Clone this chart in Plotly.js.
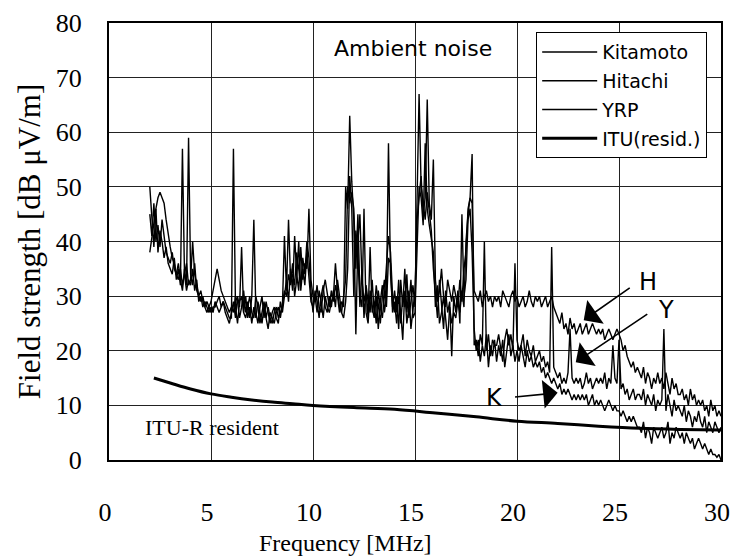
<!DOCTYPE html>
<html>
<head>
<meta charset="utf-8">
<script src="https://cdn.plot.ly/plotly-3.0.1.min.js"></script>
<style>html,body{margin:0;padding:0;background:#fff;}#chart{width:732px;height:556px;}</style>
</head>
<body>
<div id="chart"></div>
<script>
// Frequency grid [MHz]
const freq = [
2.0,2.1,2.2,2.3,2.4,2.5,2.6,2.7,2.8,2.9,
3.0,3.1,3.2,3.3,3.4,3.5,3.6,3.7,3.8,3.9,
4.0,4.1,4.2,4.3,4.4,4.5,4.6,4.7,4.8,4.9,
5.0,5.1,5.2,5.3,5.4,5.5,5.6,5.7,5.8,5.9,
6.0,6.1,6.2,6.3,6.4,6.5,6.6,6.7,6.8,6.9,
7.0,7.1,7.2,7.3,7.4,7.5,7.6,7.7,7.8,7.9,
8.0,8.1,8.2,8.3,8.4,8.5,8.6,8.7,8.8,8.9,
9.0,9.1,9.2,9.3,9.4,9.5,9.6,9.7,9.8,9.9,
10.0,10.1,10.2,10.3,10.4,10.5,10.6,10.7,10.8,10.9,
11.0,11.1,11.2,11.3,11.4,11.5,11.6,11.7,11.8,11.9,
12.0,12.1,12.2,12.3,12.4,12.5,12.6,12.7,12.8,12.9,
13.0,13.1,13.2,13.3,13.4,13.5,13.6,13.7,13.8,13.9,
14.0,14.1,14.2,14.3,14.4,14.5,14.6,14.7,14.8,14.9,
15.0,15.1,15.2,15.3,15.4,15.5,15.6,15.7,15.8,15.9,
16.0,16.1,16.2,16.3,16.4,16.5,16.6,16.7,16.8,16.9,
17.0,17.1,17.2,17.3,17.4,17.5,17.6,17.7,17.8,17.9,
18.0,18.1,18.2,18.3,18.4,18.5,18.6,18.7,18.8,18.9,
19.0,19.1,19.2,19.3,19.4,19.5,19.6,19.7,19.8,19.9,
20.0,20.1,20.2,20.3,20.4,20.5,20.6,20.7,20.8,20.9,
21.0,21.1,21.2,21.3,21.4,21.5,21.6,21.7,21.8,21.9,
22.0,22.1,22.2,22.3,22.4,22.5,22.6,22.7,22.8,22.9,
23.0,23.1,23.2,23.3,23.4,23.5,23.6,23.7,23.8,23.9,
24.0,24.1,24.2,24.3,24.4,24.5,24.6,24.7,24.8,24.9,
25.0,25.1,25.2,25.3,25.4,25.5,25.6,25.7,25.8,25.9,
26.0,26.1,26.2,26.3,26.4,26.5,26.6,26.7,26.8,26.9,
27.0,27.1,27.2,27.3,27.4,27.5,27.6,27.7,27.8,27.9,
28.0,28.1,28.2,28.3,28.4,28.5,28.6,28.7,28.8,28.9,
29.0,29.1,29.2,29.3,29.4,29.5,29.6,29.7,29.8,29.9,
30.0];

// Field strength [dBuV/m]
const kitamoto = [
50,44,39,46,38,42,40,37,39,36,
35,34,37,33,35,32,57,34,31,33,
32,35,31,33,29,30,28,29,28,27,
28,27,29,28,27,28,29,27,26,25,
27,29,26,30,28,39,27,30,26,28,
25,28,26,29,27,25,28,26,24,27,
26,25,27,28,26,29,31,30,34,32,
36,30,33,40,31,35,32,38,34,29,
28,30,27,31,29,26,30,28,27,29,
30,36,31,28,27,30,33,50,47,49,
46,35,45,30,28,46,27,25,31,28,
26,30,24,29,32,27,30,58,34,28,
31,27,33,25,30,28,34,26,29,32,
28,46,67,50,47,44,49,45,42,35,
30,26,33,28,24,31,27,29,19,30,
27,31,25,45,30,33,44,46,38,24,
20,22,18,21,19,23,17,21,19,22,
18,21,19,22,17,20,23,19,21,18,
20,18,21,19,17,20,18,19,17,18,
17,18,16,17,15,16,15,14,15,14,
13,14,12,13,12,13,12,11,12,11,
12,11,12,11,12,10,11,12,10,11,
10,11,10,9,10,11,10,9,10,9,
9,8,9,8,7,8,7,8,7,6,
6,5,7,4,6,5,3,6,5,4,
5,6,4,5,7,3,5,4,6,5,
4,5,3,5,4,3,4,2,3,4,
3,2,3,2,1,2,1,1,0.5,1,
0];

const hitachi = [
45,41,47,40,43,39,44,41,38,37,
36,38,35,34,36,33,31,35,32,59,
34,32,36,31,30,29,30,28,27,28,
29,31,33,35,33,31,30,29,28,27,
28,27,30,29,26,28,31,27,29,26,
30,44,27,25,28,30,26,29,27,25,
27,28,26,25,29,27,30,33,29,35,
31,41,34,31,39,33,36,35,46,33,
30,29,32,28,27,31,33,30,28,31,
29,32,30,27,29,28,50,46,63,51,
44,23,40,45,33,29,31,26,39,27,
29,25,31,28,26,30,35,41,38,30,
27,30,24,33,28,35,27,31,24,28,
31,44,48,52,45,48,66,47,44,55,
33,29,31,35,30,28,33,31,29,32,
30,28,33,29,35,38,46,48,47,31,
30,29,31,28,30,31,29,30,28,30,
29,30,28,31,30,29,28,30,31,29,
30,28,29,30,28,29,31,29,28,30,
29,30,28,29,30,28,29,30,28,27,
26,25,27,24,25,23,26,24,25,23,
24,25,23,24,25,23,24,25,24,23,
24,23,24,22,23,24,23,22,23,24,
23,22,20,21,19,18,17,18,16,17,
16,15,17,14,16,15,13,15,14,16,
14,15,13,16,14,12,15,13,14,12,
12,13,11,12,10,13,11,12,10,11,
10,11,9,10,8,11,9,10,8,9,
8];

const yrp = [
38,41,43,46,48,49,48,47,44,41,
39,37,36,34,33,35,32,34,36,32,
33,40,34,32,30,31,29,28,29,28,
27,28,28,29,30,28,29,28,27,26,
26,57,28,25,29,30,27,26,28,30,
27,26,30,28,25,27,29,26,28,26,
25,27,28,26,27,28,41,31,44,33,
34,32,38,35,32,37,34,40,37,31,
27,31,29,26,30,32,28,27,30,28,
31,28,33,30,27,26,29,35,52,46,
30,42,38,28,35,26,32,29,27,33,
27,32,28,25,30,33,28,37,36,27,
29,25,30,27,22,31,25,28,33,26,
27,41,50,48,43,58,46,43,40,38,
28,32,25,27,30,26,22,28,25,27,
26,29,27,31,28,40,45,48,56,21,
22,19,23,21,40,20,23,19,22,21,
21,23,20,18,22,24,21,23,20,36,
22,20,21,23,19,22,20,19,21,18,
19,20,18,19,17,18,16,39,17,16,
15,16,14,15,14,16,24,15,14,15,
14,15,13,14,16,14,15,13,14,15,
14,15,14,16,13,15,14,21,15,14,
22,13,14,12,13,11,12,13,11,12,
12,11,13,10,12,11,10,12,9,11,
10,11,24,9,12,10,8,11,9,10,
9,8,10,7,9,8,6,8,7,9,
7,6,8,5,7,6,5,7,6,5,
6];

// ITU-R residential noise
const ituFreq = [2.2,3,4,5,6,7,8,9,10,12,14,16,18,20,22,24,26,28,30];
const ituVal  = [15,14.1,13,12.1,11.5,11,10.6,10.3,10,9.6,9.3,8.6,7.9,7.1,6.7,6.2,5.8,5.6,5.5];

const seriesNames = ['Kitamoto','Hitachi','YRP','ITU(resid.)'];

const serif = "'Liberation Serif', 'Times New Roman', serif";
const sans = "'DejaVu Sans', sans-serif";

const traces = [
  {x: freq, y: kitamoto, name: seriesNames[0], legendgroup:'a', mode:'lines', line:{color:'#000', width:1.4}},
  {x: freq, y: hitachi, name: seriesNames[1], legendgroup:'b', mode:'lines', line:{color:'#000', width:1.4}},
  {x: freq, y: yrp, name: seriesNames[2], legendgroup:'c', mode:'lines', line:{color:'#000', width:1.4}},
  {x: ituFreq, y: ituVal, name: seriesNames[3], legendgroup:'d', mode:'lines', line:{color:'#000', width:3, shape:'spline'}}
];

const axisCommon = {
  showgrid: true, gridcolor: '#222', gridwidth: 1,
  zeroline: false, showline: true, linecolor: '#000', linewidth: 2, mirror: true,
  ticks: '', ticklabeloverflow: 'allow', tickfont: {family: serif, size: 26, color: '#000'}
};

const layout = {
  width: 732, height: 556,
  margin: {l: 109, r: 11, t: 23, b: 96},
  paper_bgcolor: '#fff', plot_bgcolor: '#fff',
  showlegend: true,
  legend: {x: 0.698, y: 0.979, xanchor: 'left', yanchor: 'top', bgcolor: '#fff',
           bordercolor: '#000', borderwidth: 1, tracegroupgap: 1, itemwidth: 55,
           font: {family: sans, size: 19, color: '#000'}},
  xaxis: Object.assign({}, axisCommon, {range: [0, 30], dtick: 5, tick0: 0, ticklabelstandoff: 28, ticklabelshift: -4}),
  yaxis: Object.assign({}, axisCommon, {range: [0, 80], dtick: 10, tick0: 0, ticklabelstandoff: 20,
    title: {text: 'Field strength [dB μV/m]', font: {family: serif, size: 31, color: '#000'}, standoff: 6}}),
  annotations: [
    {x: 0.386, y: -0.19, xref: 'paper', yref: 'paper', xanchor: 'center', yanchor: 'middle',
     text: 'Frequency [MHz]', showarrow: false, font: {family: serif, size: 24, color: '#000'}},
    {x: 14.9, y: 75.4, xref: 'x', yref: 'y', text: 'Ambient noise', showarrow: false,
     font: {family: sans, size: 22, color: '#000'}},
    {x: 5.06, y: 6.0, xref: 'x', yref: 'y', text: 'ITU-R resident', showarrow: false,
     font: {family: serif, size: 22, color: '#000'}},
    {x: 26.41, y: 32.6, xref: 'x', yref: 'y', text: 'H', showarrow: false, font: {family: sans, size: 24, color: '#000'}},
    {x: 27.3, y: 27.5, xref: 'x', yref: 'y', text: 'Y', showarrow: false, font: {family: sans, size: 24, color: '#000'}},
    {x: 18.9, y: 11.35, xref: 'x', yref: 'y', text: 'K', showarrow: false, font: {family: sans, size: 24, color: '#000'}},
    {x: 23.27, y: 25.6, ax: 25.6, ay: 31.7, xref: 'x', yref: 'y', axref: 'x', ayref: 'y', text: '',
     showarrow: true, arrowhead: 1, arrowsize: 3, arrowwidth: 1.6, arrowcolor: '#000'},
    {x: 22.88, y: 17.9, ax: 26.46, ay: 26.9, xref: 'x', yref: 'y', axref: 'x', ayref: 'y', text: '',
     showarrow: true, arrowhead: 1, arrowsize: 3, arrowwidth: 1.6, arrowcolor: '#000'},
    {x: 21.99, y: 12.3, ax: 19.83, ay: 11.5, xref: 'x', yref: 'y', axref: 'x', ayref: 'y', text: '',
     showarrow: true, arrowhead: 1, arrowsize: 3, arrowwidth: 1.6, arrowcolor: '#000'}
  ]
};

Plotly.newPlot('chart', traces, layout, {staticPlot: true, displayModeBar: false});
</script>
</body>
</html>
